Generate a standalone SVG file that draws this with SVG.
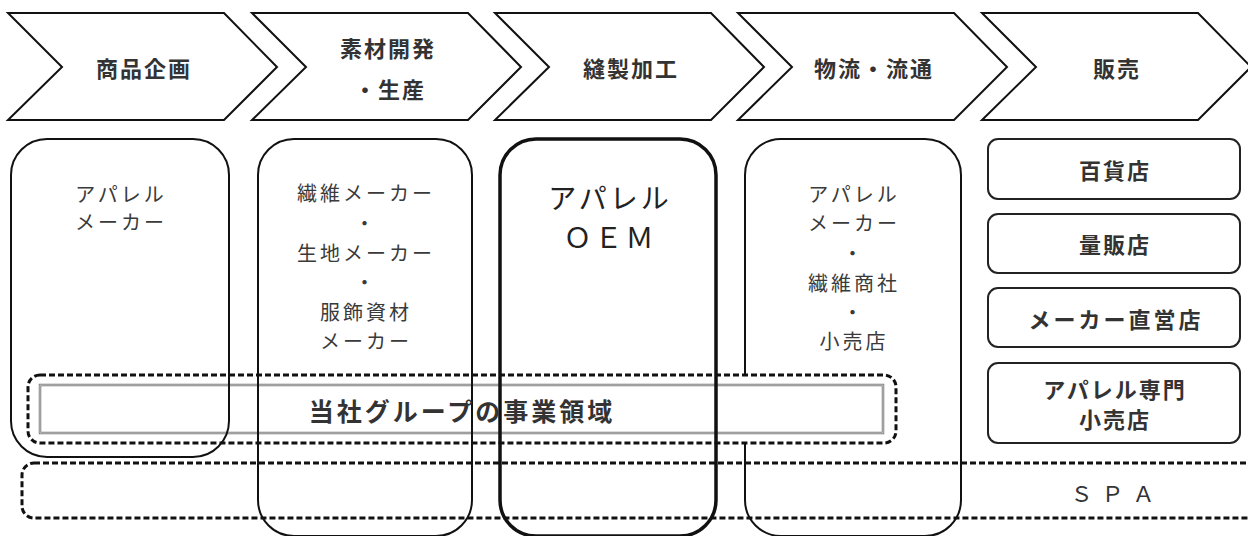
<svg xmlns="http://www.w3.org/2000/svg" width="1248" height="536" viewBox="0 0 1248 536">
<style>
.chev{fill:#fff;stroke:#111;stroke-width:2;stroke-linejoin:miter}
.lbl{font-family:"Noto Sans CJK JP","Noto Sans",sans-serif;font-size:22px;font-weight:bold;fill:#333;text-anchor:middle;dominant-baseline:central;letter-spacing:2px}
.min{font-family:"Noto Sans CJK JP","Noto Sans",sans-serif;font-size:20px;font-weight:normal;fill:#3a3a3a;text-anchor:middle;dominant-baseline:central;letter-spacing:3px}
.big{font-family:"Noto Sans CJK JP","Noto Sans",sans-serif;font-size:28px;font-weight:normal;fill:#222;text-anchor:middle;dominant-baseline:central;letter-spacing:3px}
.rbox{fill:none;stroke:#111;stroke-width:2}
.sbox{fill:#fff;stroke:#222;stroke-width:2}
.dash{stroke:#111;stroke-width:3;stroke-dasharray:6 3}
</style>
<g id="chevrons">
<g id="chev-kikaku"><polygon class="chev" points="8,13 224,13 277,67 224,120 8,120 62,67"/><text class="lbl" x="144" y="67">商品企画</text></g>
<g id="chev-sozai"><polygon class="chev" points="252,13 468,13 521,67 468,120 252,120 306,67"/><text class="lbl" x="388" y="47">素材開発</text><text class="lbl" x="390" y="88">・生産</text></g>
<g id="chev-hosei"><polygon class="chev" points="495,13 711,13 764,67 711,120 495,120 549,67"/><text class="lbl" x="631" y="67">縫製加工</text></g>
<g id="chev-butsuryu"><polygon class="chev" points="738,13 954,13 1007,67 954,120 738,120 792,67"/><text class="lbl" x="874" y="67">物流・流通</text></g>
<g id="chev-hanbai"><polygon class="chev" points="982,13 1198,13 1251,67 1198,120 982,120 1036,67"/><text class="lbl" x="1117" y="67">販売</text></g>
</g>
<g id="spa">
<rect class="dash" x="22" y="463" width="1240" height="55" rx="12" fill="none"/>
<text class="lbl" x="1117" y="492" style="font-weight:normal;letter-spacing:9px">ＳＰＡ</text>
</g>
<g id="box-logistics">
<rect class="rbox" x="745" y="139" width="216" height="397" rx="36"/>
<text class="min" x="854" y="193">アパレル</text>
<text class="min" x="854" y="222">メーカー</text>
<text class="min" x="854" y="252">・</text>
<text class="min" x="854" y="282">繊維商社</text>
<text class="min" x="854" y="311">・</text>
<text class="min" x="854" y="340">小売店</text>
</g>
<g id="group-domain">
<rect class="dash" x="28" y="375" width="868" height="68" rx="12" fill="#fff"/>
<rect x="40" y="385" width="843" height="48" fill="none" stroke="#777" stroke-width="2.5"/>
<rect x="40" y="385" width="843" height="48" fill="none" stroke="#ddd" stroke-width="0.8"/>
</g>
<g id="box-planning">
<rect class="rbox" x="11" y="139" width="218" height="318" rx="36"/>
<text class="min" x="121" y="193">アパレル</text>
<text class="min" x="121" y="221">メーカー</text>
</g>
<g id="box-material">
<rect class="rbox" x="258" y="139" width="214" height="397" rx="36"/>
<text class="min" x="366" y="192">繊維メーカー</text>
<text class="min" x="366" y="222">・</text>
<text class="min" x="366" y="252">生地メーカー</text>
<text class="min" x="366" y="281">・</text>
<text class="min" x="366" y="311">服飾資材</text>
<text class="min" x="366" y="340">メーカー</text>
</g>
<g id="box-oem">
<rect x="500" y="139" width="216" height="397" rx="36" fill="none" stroke="#111" stroke-width="3.5"/>
<text class="big" x="610" y="197">アパレル</text>
<text class="big" x="610" y="236">ＯＥＭ</text>
</g>
<text class="lbl" x="462" y="410" style="font-size:25px;letter-spacing:3px">当社グループの事業領域</text>
<g id="sales">
<g id="s-dept"><rect class="sbox" x="988" y="139" width="252" height="60" rx="10"/><text class="lbl" x="1115" y="169">百貨店</text></g>
<g id="s-mass"><rect class="sbox" x="988" y="214" width="252" height="59" rx="10"/><text class="lbl" x="1115" y="243">量販店</text></g>
<g id="s-direct"><rect class="sbox" x="988" y="288" width="252" height="59" rx="10"/><text class="lbl" x="1116" y="318" style="letter-spacing:3px">メーカー直営店</text></g>
<g id="s-specialty"><rect class="sbox" x="988" y="363" width="252" height="80" rx="10"/><text class="lbl" x="1115" y="388">アパレル専門</text><text class="lbl" x="1115" y="418">小売店</text></g>
</g>
</svg>
